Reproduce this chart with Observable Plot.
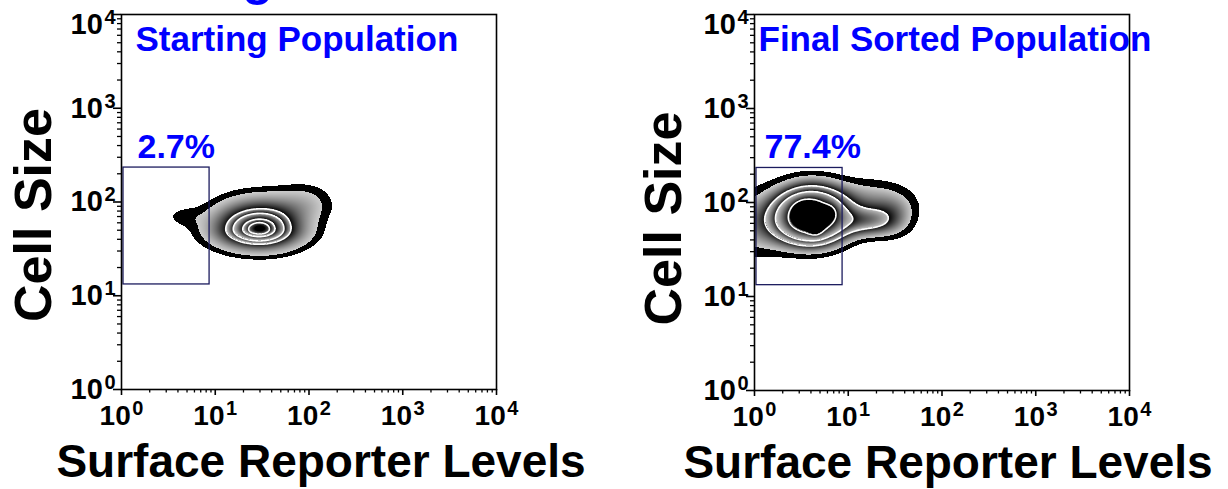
<!DOCTYPE html>
<html><head><meta charset="utf-8">
<script src="https://cdn.jsdelivr.net/npm/d3@7"></script>
<script src="https://cdn.jsdelivr.net/npm/@observablehq/plot@0.6"></script>
<style>
body{margin:0;background:#fff;}
#wrap{position:relative;width:1228px;height:489px;overflow:hidden;background:#fff;}
#wrap svg{position:absolute;top:0;}
</style></head><body><div id="wrap"></div>
<script>
// ---- data ----
const decades = [0, 1, 2, 3, 4];                 // log10 of 10^0 .. 10^4
const minorMultipliers = [2, 3, 4, 5, 6, 7, 8, 9];
const panelTitles = ["Starting Population", "Final Sorted Population"];
const gatePercents = ["2.7%", "77.4%"];
const gateReporter = [1.05, 8.7];   // surface reporter levels (gate x range)
const gateSize = [13.2, 233];       // cell size (gate y range)
const xTitle = "Surface Reporter Levels";
const yTitle = "Cell Size";
// population components in log10 units: [weight, centerX, centerY, sdLeft, sdRight, sdDown, sdUp]
const startingComponents = [
  [1.00, 1.47, 1.71, 0.30, 0.28, 0.135, 0.18],
  [0.06, 0.66, 1.84, 0.14, 0.14, 0.075, 0.075],
  [0.12, 1.95, 1.98, 0.22, 0.20, 0.12, 0.14]
];
const startingLevels = [0.05, 0.10, 0.49, 0.65, 0.84, 0.93];
const finalComponents = [
  [1.00, 0.60, 1.84, 0.25, 0.25, 0.18, 0.20],
  [0.12, 0.00, 1.75, 0.20, 0.26, 0.24, 0.26],
  [0.25, 0.55, 1.93, 0.08, 0.08, 0.06, 0.06],
  [0.15, 0.80, 1.90, 0.05, 0.05, 0.05, 0.05],
  [0.18, 0.65, 1.71, 0.05, 0.05, 0.05, 0.05],
  [0.24, 1.22, 1.80, 0.22, 0.22, 0.11, 0.11],
  [0.08, 1.50, 1.90, 0.17, 0.17, 0.20, 0.13],
  [0.10, 1.25, 2.05, 0.30, 0.30, 0.15, 0.15]
];
const finalLevels = [0.05, 0.09, 0.25, 0.40, 0.68];

// ---- helpers ----
const minorTicks = decades.slice(0, -1).flatMap(k => minorMultipliers.map(m => k + Math.log10(m)));
const FONT = "Liberation Sans, Arial, Helvetica, sans-serif";

function density(comps, u, v) {
  let s = 0;
  for (const [w, cu, cv, sl, sr, sd, su] of comps) {
    const du = u - cu, dv = v - cv;
    const zu = du / (du < 0 ? sl : sr), zv = dv / (dv < 0 ? sd : su);
    s += w * Math.exp(-0.5 * (zu * zu + zv * zv));
  }
  return s;
}
function zebraValue(levels, d) {
  if (!(d >= levels[0])) return NaN;
  let k = 0;
  while (k + 1 < levels.length && d >= levels[k + 1]) k++;
  const lo = levels[k];
  const hi = k + 1 < levels.length ? levels[k + 1] : lo * 1.06;
  const t = Math.min(1, (d - lo) / (hi - lo));
  return k + t;
}
function zebraInterpolator(n) {
  return t => {
    const z = t * n;
    let k = Math.floor(z), f = z - k;
    if (k >= n) { k = n - 1; f = 1; }
    if (k <= 0) return "rgb(0,0,0)";
    const start = k === 1 ? 0.80 : (k === n - 1 ? 0.45 : 0.78);
    const g = Math.round(255 * start * Math.pow(1 - f, 0.9));
    return `rgb(${g},${g},${g})`;
  };
}

function superscriptLabels(svg, sel, supSize) {
  svg.querySelectorAll(sel).forEach(t => {
    const s = t.textContent.trim();
    if (!s) return;
    t.textContent = "";
    const ns = "http://www.w3.org/2000/svg";
    const a = document.createElementNS(ns, "tspan"); a.textContent = "10";
    const b = document.createElementNS(ns, "tspan"); b.textContent = s;
    b.setAttribute("dy", "-10"); b.setAttribute("dx", "1.5"); b.setAttribute("font-size", supSize);
    t.appendChild(a); t.appendChild(b);
  });
}

function panel(i, opts) {
  const comps = i === 0 ? startingComponents : finalComponents;
  const levels = i === 0 ? startingLevels : finalLevels;
  const n = levels.length;
  const lx = Math.log10;
  const svg = Plot.plot({
    width: opts.width, height: 489,
    marginLeft: opts.marginLeft, marginRight: opts.marginRight,
    marginTop: 14, marginBottom: opts.marginBottom,
    style: {fontFamily: FONT, background: "white", overflow: "visible"},
    x: {domain: [0, 4]},
    y: {domain: [0, 4]},
    color: {type: "linear", domain: [0, n], interpolate: zebraInterpolator(n)},
    marks: [
      Plot.raster({x1: 0, x2: 4, y1: 0, y2: 4, pixelSize: 1, imageRendering: "pixelated",
        fill: (u, v) => zebraValue(levels, density(comps, u, v))}),
      Plot.contour({x1: 0, x2: 4, y1: 0, y2: 4, pixelSize: 1,
        value: (u, v) => density(comps, u, v), thresholds: levels.slice(2),
        fill: "none", stroke: "white", strokeWidth: 1.6}),
      Plot.rect([0], {x1: () => lx(gateReporter[0]), x2: () => lx(gateReporter[1]),
        y1: () => lx(gateSize[0]), y2: () => lx(gateSize[1]),
        fill: "none", stroke: "#1b1b5e", strokeWidth: 1.3}),
      Plot.frame({stroke: "black", strokeWidth: 1.6}),
      // minor ticks
      Plot.axisX(minorTicks, {tickSize: 3.5, tickFormat: () => "", strokeWidth: 1.3}),
      Plot.axisY(minorTicks, {tickSize: 4, tickFormat: () => "", strokeWidth: 1.3}),
      // major ticks
      Plot.axisX(decades, {tickSize: 6, tickFormat: () => "", strokeWidth: 1.6}),
      Plot.axisY(decades, {tickSize: 8, tickFormat: () => "", strokeWidth: 1.6}),
      // tick labels
      Plot.axisX(decades, {tickSize: 0, tickPadding: 16, fontSize: 28, fontWeight: "bold", tickFormat: d => String(d)}),
      Plot.axisY(decades.slice(0, -1), {tickSize: 0, tickPadding: 6, fontSize: 29, fontWeight: "bold", tickFormat: d => String(d)}),
      Plot.axisY(decades.slice(-1), {tickSize: 0, tickPadding: 6, dy: 10, fontSize: 29, fontWeight: "bold", tickFormat: d => String(d)}),
      // titles
      Plot.text([panelTitles[i]], {frameAnchor: "top-left", dx: opts.titleDx, dy: 36, lineAnchor: "bottom",
        text: d => d, fill: "#0000ff", fontSize: 35, fontWeight: "bold"}),
      Plot.text([gatePercents[i]], {x: () => lx(gateReporter[0]), y: () => lx(gateSize[1]), dx: opts.pctDx, dy: -10,
        lineAnchor: "bottom", textAnchor: "start", text: d => d, fill: "#0000ff", fontSize: 34, fontWeight: "bold"}),
      Plot.text([xTitle], {frameAnchor: "bottom", dx: opts.xTitleDx, dy: 87, lineAnchor: "bottom",
        text: d => d, fill: "black", fontSize: 46, fontWeight: "bold"}),
      Plot.text([yTitle], {frameAnchor: "left", dx: opts.yTitleDx, dy: opts.yTitleDy, rotate: -90, lineAnchor: "bottom",
        textAnchor: "middle", text: d => d, fill: "black", fontSize: 52, fontWeight: "bold"}),
      ...(opts.extra || [])
    ]
  });
  superscriptLabels(svg, 'g[aria-label="x-axis tick label"] text, g[aria-label="y-axis tick label"] text', 20);
  return svg;
}

const wrap = document.getElementById("wrap");
const left = panel(0, {width: 628, marginLeft: 121, marginRight: 132, marginBottom: 100,
  titleDx: 14, pctDx: 14, xTitleDx: 12, yTitleDx: -71, yTitleDy: 13,
  extra: [Plot.text(["g"], {frameAnchor: "top-left", dx: 121, dy: -19.5, lineAnchor: "bottom",
    text: d => d, fill: "#0000ff", fontSize: 50, fontWeight: "bold"})]});
left.style.left = "0px";
const right = panel(1, {width: 600, marginLeft: 126, marginRight: 99, marginBottom: 99,
  titleDx: 4, pctDx: 8, xTitleDx: 6, yTitleDx: -74, yTitleDy: 16});
right.style.left = "628px";
wrap.appendChild(left);
wrap.appendChild(right);
</script>
</body></html>
